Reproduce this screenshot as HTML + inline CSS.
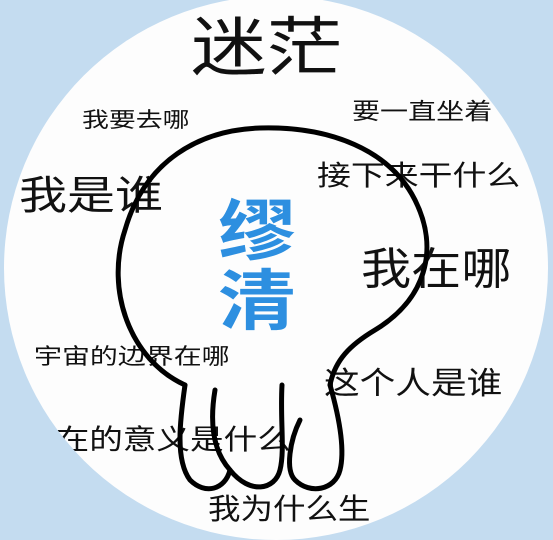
<!DOCTYPE html>
<html><head><meta charset="utf-8">
<style>
html,body{margin:0;padding:0;}
body{width:553px;height:535px;overflow:hidden;background:#c4dcf0;position:relative;font-family:"Liberation Sans","Noto Sans CJK SC",sans-serif;}
#circle{position:absolute;left:4px;top:-4px;width:544px;height:544px;border-radius:50%;background:#fdfdfd;overflow:hidden;}
.t{position:absolute;color:#111;white-space:nowrap;line-height:1;transform-origin:0 0;}
svg{position:absolute;left:0;top:0;}
</style></head>
<body>
<div id="circle">
<div class="t" style="left:187px;top:20px;font-size:64px;transform:scaleX(1.18);">迷茫</div>
<div class="t" style="left:78px;top:114px;font-size:21px;transform:scaleX(1.28);">我要去哪</div>
<div class="t" style="left:348px;top:104px;font-size:23px;transform:scaleX(1.22);">要一直坐着</div>
<div class="t" style="left:313px;top:166px;font-size:28px;transform:scaleX(1.21);">接下来干什么</div>
<div class="t" style="left:15px;top:180px;font-size:40px;transform:scaleX(1.2);">我是谁</div>
<div class="t" style="left:357px;top:252px;font-size:44px;transform:scaleX(1.14);">我在哪</div>
<div class="t" style="left:30px;top:350px;font-size:22px;transform:scaleX(1.27);">宇宙的边界在哪</div>
<div class="t" style="left:320px;top:372px;font-size:31px;transform:scaleX(1.15);">这个人是谁</div>
<div class="t" style="left:18px;top:430px;font-size:28px;transform:scaleX(1.2);">存在的意义是什么</div>
<div class="t" style="left:204px;top:500px;font-size:29px;transform:scaleX(1.12);">我为什么生</div>
</div>
<svg width="553" height="535">
<g fill="none" stroke="#000" stroke-width="5" stroke-linecap="round" stroke-linejoin="round">
<path d="M185,385 C130,360 105,290 125,230 C145,160 200,130 260,128 C330,126 390,150 415,200 C440,250 425,300 375,330 C350,345 335,360 330,385"/>
<path d="M185,385 C180,420 175,460 190,480 C205,495 225,490 230,470"/>
<path d="M215,390 C210,420 212,450 230,470 C250,495 275,490 280,470 C285,450 280,420 282,385"/>
<path d="M330,385 C340,420 345,450 340,470 C335,490 310,495 295,480 C285,470 290,440 300,420"/>
</g>
</svg>
<div class="t" style="left:218px;top:196px;font-size:66px;font-weight:bold;color:#2d8fe0;line-height:70px;width:80px;transform:scaleX(1.18);">缪<br>清</div>
</body></html>
